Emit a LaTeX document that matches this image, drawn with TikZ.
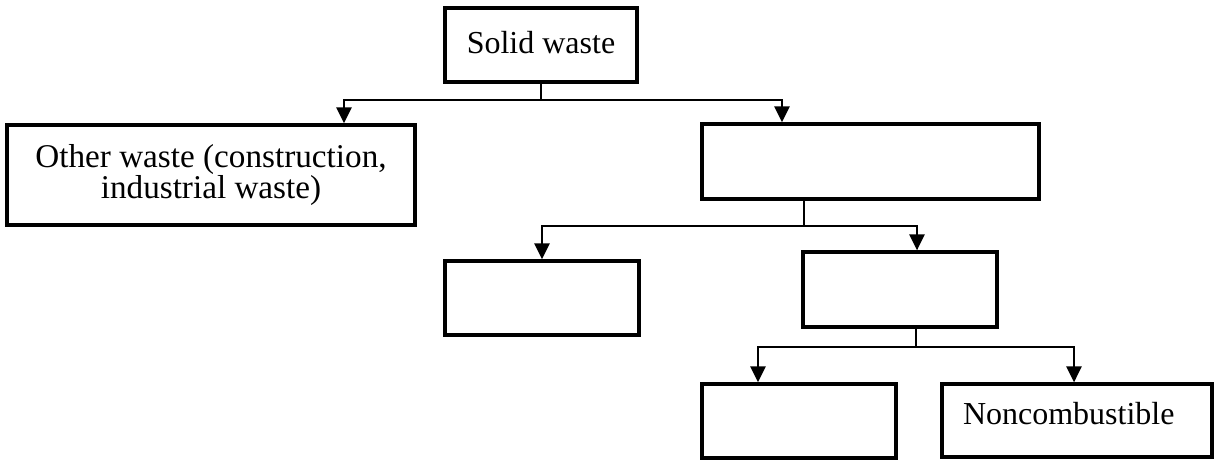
\documentclass[tikz,border=0pt]{standalone}
\usepackage{fontspec}
\setmainfont{Liberation Serif}
\usetikzlibrary{arrows.meta}

\begin{document}
\begin{tikzpicture}[x=0.5pt,y=0.5pt,
  box/.style={draw=black, line width=1.6pt, inner sep=0pt, align=center,
    font=\fontsize{16}{15.5}\selectfont},
  link/.style={line width=1.4pt},
  arr/.style={link, -{Triangle[length=8pt, width=7.5pt]}}]
\useasboundingbox (0,0) rectangle (1221,460);
\node[box, minimum width=96pt, minimum height=37pt, text depth=3pt] (solid) at (541,415) {Solid waste};
\node[box, minimum width=204pt, minimum height=50pt, font=\fontsize{16.6}{15.2}\selectfont] (other) at (211,285) {Other waste (construction,\\industrial waste)};
\node[box, minimum width=168.5pt, minimum height=37.5pt] (household) at (870.5,298.5) {};
\node[box, minimum width=97pt, minimum height=37pt] (recycle) at (542,162) {};
\node[box, minimum width=97pt, minimum height=37.5pt] (mixed) at (900,170.5) {};
\node[box, minimum width=97pt, minimum height=37pt] (combust) at (799,39) {};
\node[box, minimum width=135pt, minimum height=36.5pt, text width=114pt, inner xsep=10.5pt, align=left, text depth=7pt] (noncomb) at (1077,39.5) {Noncombustible};
\coordinate (j1) at (541,360);
\coordinate (l1) at (344,360);
\coordinate (r1) at (782,360);
\draw[link] (solid.south) -- (j1);
\draw[arr] (j1) -- (l1) -- (l1 |- other.north);
\draw[arr] (j1) -- (r1) -- (r1 |- household.north);
\coordinate (j2) at (804,234);
\coordinate (l2) at (542,234);
\coordinate (r2) at (917,234);
\draw[link] (j2 |- household.south) -- (j2);
\draw[arr] (j2) -- (l2) -- (l2 |- recycle.north);
\draw[arr] (j2) -- (r2) -- (r2 |- mixed.north);
\coordinate (j3) at (916,113);
\coordinate (l3) at (758,113);
\coordinate (r3) at (1074,113);
\draw[link] (j3 |- mixed.south) -- (j3);
\draw[arr] (j3) -- (l3) -- (l3 |- combust.north);
\draw[arr] (j3) -- (r3) -- (r3 |- noncomb.north);
\end{tikzpicture}
\end{document}
